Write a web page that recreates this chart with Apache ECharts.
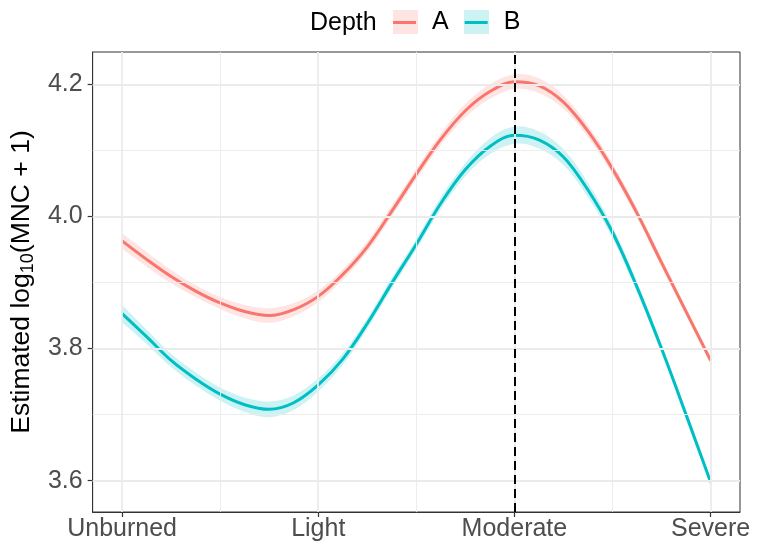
<!DOCTYPE html>
<html>
<head>
<meta charset="utf-8">
<script src="https://cdn.jsdelivr.net/npm/echarts/dist/echarts.min.js"></script>
<style>html,body{margin:0;padding:0;background:#fff}#c{width:760px;height:550px}</style>
</head>
<body>
<div id="c"></div>
<script>
// ---- data ----
const xTicks = [1, 2, 3, 4];
const xLabels = ['Unburned', 'Light', 'Moderate', 'Severe'];
const xMinor = [1.5, 2.5, 3.5];
const yTicks = [3.6, 3.8, 4.0, 4.2];
const yMinor = [3.7, 3.9, 4.1];
const vlineX = 3;

const xs  = [1.000, 1.125, 1.250, 1.375, 1.500, 1.625, 1.750, 1.875, 2.000, 2.125, 2.250, 2.375, 2.500,
             2.625, 2.750, 2.875, 3.000, 3.125, 3.250, 3.375, 3.500, 3.625, 3.750, 3.875, 4.000];
const aY  = [3.963, 3.935, 3.909, 3.887, 3.869, 3.856, 3.850, 3.859, 3.879, 3.912, 3.954, 4.008, 4.064,
             4.117, 4.160, 4.189, 4.204, 4.198, 4.173, 4.129, 4.072, 4.005, 3.930, 3.856, 3.782];
const aSE = [0.012, 0.011, 0.010, 0.009, 0.009, 0.010, 0.011, 0.010, 0.009, 0.008, 0.008, 0.008, 0.008,
             0.009, 0.010, 0.011, 0.011, 0.011, 0.010, 0.009, 0.008, 0.007, 0.007, 0.006, 0.006];
const bY  = [3.853, 3.818, 3.782, 3.754, 3.731, 3.715, 3.708, 3.718, 3.745, 3.784, 3.838, 3.899, 3.958,
             4.020, 4.071, 4.106, 4.123, 4.116, 4.090, 4.040, 3.976, 3.893, 3.800, 3.700, 3.598];
const bSE = [0.013, 0.011, 0.010, 0.010, 0.010, 0.011, 0.012, 0.011, 0.010, 0.009, 0.008, 0.008, 0.008,
             0.009, 0.010, 0.012, 0.013, 0.013, 0.012, 0.011, 0.009, 0.008, 0.007, 0.007, 0.006];

// ---- chart ----
const FONT = "'Liberation Sans', Arial, Helvetica, sans-serif";
const RED = '#F8766D', BLUE = '#00BFC4';
const SMOOTH = 0.35;

function pairs(x, y) { return x.map((v, i) => [v, y[i]]); }

// smooth bezier path through pixel points (same scheme as line series smoothing)
function bezierPath(pts, start) {
  let d = start ? 'M' + pts[0][0] + ',' + pts[0][1] : 'L' + pts[0][0] + ',' + pts[0][1];
  const n = pts.length;
  const cps = pts.map((p, i) => {
    const prev = pts[Math.max(0, i - 1)], next = pts[Math.min(n - 1, i + 1)];
    const vx = next[0] - prev[0], vy = next[1] - prev[1];
    const l0 = Math.hypot(p[0] - prev[0], p[1] - prev[1]);
    const l1 = Math.hypot(next[0] - p[0], next[1] - p[1]);
    const r = (l0 + l1) ? l1 / (l0 + l1) : 0.5;
    return {
      inX: p[0] - vx * SMOOTH * (1 - r), inY: p[1] - vy * SMOOTH * (1 - r),
      outX: p[0] + vx * SMOOTH * r, outY: p[1] + vy * SMOOTH * r
    };
  });
  for (let i = 1; i < n; i++) {
    const a = cps[i - 1], b = cps[i];
    d += 'C' + a.outX + ',' + a.outY + ' ' + b.inX + ',' + b.inY + ' ' + pts[i][0] + ',' + pts[i][1];
  }
  return d;
}

function bandSeries(name, x, y, se, fill) {
  return {
    name: name, type: 'custom', coordinateSystem: 'cartesian2d', clip: true, silent: true, z: 2,
    data: [[x[0], y[0]]],
    encode: { x: 0, y: 1 },
    renderItem: function (params, api) {
      const up = x.map((v, i) => api.coord([v, y[i] + se[i]]));
      const lo = x.map((v, i) => api.coord([v, y[i] - se[i]])).reverse();
      const d = bezierPath(up, true) + bezierPath(lo, false) + 'Z';
      return { type: 'path', shape: { pathData: d }, style: { fill: fill, stroke: null } };
    }
  };
}

const gridLines = [];
xTicks.forEach(v => gridLines.push({ xAxis: v, lineStyle: { color: '#EBEBEB', width: 1.8, type: 'solid' } }));
xMinor.forEach(v => gridLines.push({ xAxis: v, lineStyle: { color: '#EBEBEB', width: 0.9, type: 'solid' } }));
yTicks.forEach(v => gridLines.push({ yAxis: v, lineStyle: { color: '#EBEBEB', width: 1.8, type: 'solid' } }));
yMinor.forEach(v => gridLines.push({ yAxis: v, lineStyle: { color: '#EBEBEB', width: 0.9, type: 'solid' } }));

const chart = echarts.init(document.getElementById('c'), null, { renderer: 'canvas' });
chart.setOption({
  backgroundColor: '#ffffff',
  animation: false,
  textStyle: { fontFamily: FONT },
  grid: { left: 90, right: 20, top: 52, bottom: 38, show: true, borderColor: '#333333', borderWidth: 1, backgroundColor: '#ffffff' },
  legend: {
    data: ['A', 'B'],
    left: 393, top: 10, padding: 0,
    icon: 'rect',
    itemWidth: 23, itemHeight: 3, itemGap: 16,
    textStyle: { fontSize: 25, color: '#000', fontFamily: FONT, padding: [0, 0, 0, 11] },
    selectedMode: false
  },
  graphic: [
    { type: 'text', x: 310, y: 23, z: 5, style: { text: 'Depth', fontSize: 25, fill: '#000', fontFamily: FONT, verticalAlign: 'middle' } },
    { type: 'rect', x: 393, y: 10, z: -1, shape: { width: 25, height: 24 }, style: { fill: 'rgba(248,118,109,0.2)' } },
    { type: 'rect', x: 464, y: 10, z: -1, shape: { width: 25, height: 24 }, style: { fill: 'rgba(0,191,196,0.2)' } }
  ],
  xAxis: {
    type: 'value', min: 0.85, max: 4.15,
    axisLine: { show: true, lineStyle: { color: '#333333', width: 1 } },
    axisTick: { show: true, length: 5, customValues: xTicks, lineStyle: { color: '#333333', width: 1.2 } },
    axisLabel: { customValues: xTicks, fontSize: 25, color: '#4D4D4D', margin: 5, fontFamily: FONT,
      formatter: v => { const i = xTicks.indexOf(v); return i >= 0 ? xLabels[i] : ''; } },
    splitLine: { show: false }, minorSplitLine: { show: false }
  },
  yAxis: {
    type: 'value', min: 3.5526, max: 4.2489,
    name: '{a|Estimated log}{s|10}{a|(MNC + 1)}',
    nameLocation: 'middle', nameRotate: 90, nameGap: 47,
    nameTextStyle: {
      fontFamily: FONT, color: '#000',
      rich: {
        a: { fontSize: 26.5, lineHeight: 31, verticalAlign: 'middle', fontFamily: FONT, color: '#000' },
        s: { fontSize: 18, lineHeight: 17, verticalAlign: 'bottom', fontFamily: FONT, color: '#000' }
      }
    },
    axisLine: { show: true, lineStyle: { color: '#333333', width: 1 } },
    axisTick: { show: true, length: 5, customValues: yTicks, lineStyle: { color: '#333333', width: 1.2 } },
    axisLabel: { customValues: yTicks, fontSize: 25, color: '#4D4D4D', margin: 10, fontFamily: FONT,
      formatter: v => v.toFixed(1) },
    splitLine: { show: false }, minorSplitLine: { show: false }
  },
  series: [
    { name: 'grid', type: 'line', data: [], silent: true, z: 0,
      markLine: { silent: true, symbol: 'none', label: { show: false }, animation: false, data: gridLines } },
    bandSeries('A band', xs, aY, aSE, 'rgba(248,118,109,0.2)'),
    bandSeries('B band', xs, bY, bSE, 'rgba(0,191,196,0.2)'),
    { name: 'A', type: 'line', data: pairs(xs, aY), smooth: SMOOTH, symbol: 'none', color: RED,
      lineStyle: { color: RED, width: 3 }, z: 3 },
    { name: 'B', type: 'line', data: pairs(xs, bY), smooth: SMOOTH, symbol: 'none', color: BLUE,
      lineStyle: { color: BLUE, width: 3 }, z: 3 },
    { name: 'vline', type: 'line', data: [], silent: true, z: 10,
      markLine: { silent: true, symbol: 'none', label: { show: false }, animation: false,
        data: [{ xAxis: vlineX, lineStyle: { color: '#000', width: 2, type: [9, 5] } }] } }
  ]
});
</script>
</body>
</html>
